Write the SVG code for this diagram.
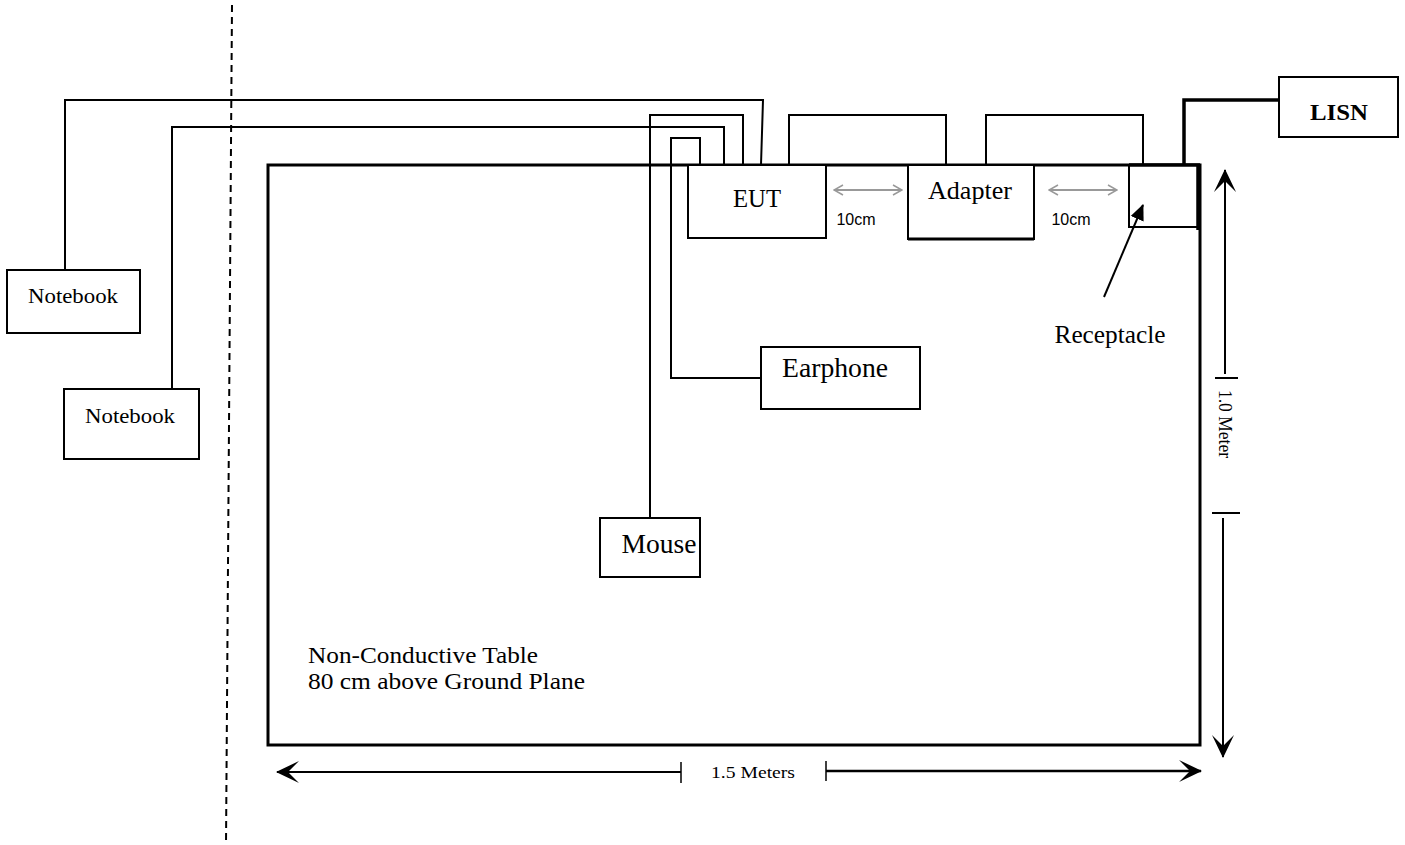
<svg xmlns="http://www.w3.org/2000/svg" width="1405" height="845" viewBox="0 0 1405 845">
<defs>
<style>
.box{fill:#fff;stroke:#000;stroke-width:2}
.w{fill:none;stroke:#000;stroke-width:2}
.t{font-family:"Liberation Serif",serif;fill:#000}
.s{font-family:"Liberation Sans",sans-serif;fill:#000}
.g{fill:none;stroke:#999;stroke-width:2}
</style>
<marker id="ga" viewBox="0 0 12 12" refX="11" refY="6" markerWidth="12" markerHeight="12" orient="auto-start-reverse" markerUnits="userSpaceOnUse">
<path d="M2,1 L11,6 L2,11" fill="none" stroke="#999" stroke-width="1.5"/>
</marker>
<marker id="ba" viewBox="0 0 16 16" refX="15" refY="8" markerWidth="16" markerHeight="16" orient="auto" markerUnits="userSpaceOnUse">
<path d="M0,1 L16,8 L0,15 Z" fill="#000"/>
</marker>
<marker id="da" viewBox="0 0 24 24" refX="23" refY="12" markerWidth="24" markerHeight="24" orient="auto-start-reverse" markerUnits="userSpaceOnUse">
<path d="M24,12 L1,1 L12,12 L1,23 Z" fill="#000"/>
</marker>
</defs>
<rect width="1405" height="845" fill="#fff"/>

<line x1="232" y1="5" x2="226" y2="845" stroke="#000" stroke-width="2" stroke-dasharray="7,5"/>

<g id="table">
<rect x="268" y="165" width="932" height="580" fill="none" stroke="#000" stroke-width="3"/>
<text class="t" x="308" y="663" font-size="24" textLength="230" lengthAdjust="spacingAndGlyphs">Non-Conductive Table</text>
<text class="t" x="308" y="689" font-size="24" textLength="277" lengthAdjust="spacingAndGlyphs">80 cm above Ground Plane</text>
</g>

<g id="connectors">
<polyline class="w" points="65,270 65,100 763,100 761,165"/>
<polyline class="w" points="172,389 172,127 724,127 724,165"/>
<polyline class="w" points="650,518 650,115 743,115 743,165"/>
<polyline class="w" points="761,378 671,378 671,138 700,138 700,165"/>
<polyline class="w" points="789,165 789,115 946,115 946,165"/>
<polyline class="w" points="986,165 986,115 1143,115 1143,165"/>
<polyline points="1279,100 1184,100 1184,165" fill="none" stroke="#000" stroke-width="3.5"/>
<line class="g" x1="834" y1="190" x2="902" y2="190" marker-start="url(#ga)" marker-end="url(#ga)"/>
<line class="g" x1="1049" y1="190" x2="1117" y2="190" marker-start="url(#ga)" marker-end="url(#ga)"/>
</g>

<g id="eut">
<rect class="box" x="688" y="165" width="138" height="73"/>
<text class="t" x="757" y="207" font-size="25" text-anchor="middle" textLength="48" lengthAdjust="spacingAndGlyphs">EUT</text>
</g>
<g id="adapter">
<rect class="box" x="908" y="165" width="126" height="74"/>
<line x1="908" y1="239" x2="1034" y2="239" stroke="#000" stroke-width="3"/>
<text class="t" x="970" y="199" font-size="25" text-anchor="middle" textLength="84" lengthAdjust="spacingAndGlyphs">Adapter</text>
</g>
<g id="receptacle">
<rect class="box" x="1129" y="165" width="70" height="62"/>
<line x1="1129" y1="165" x2="1200" y2="165" stroke="#000" stroke-width="3.5"/>
<line x1="1198" y1="165" x2="1198" y2="230" stroke="#000" stroke-width="3.5"/>
<line x1="1104" y1="297" x2="1143" y2="205" stroke="#000" stroke-width="2" marker-end="url(#ba)"/>
<text class="t" x="1110" y="343" font-size="25" text-anchor="middle" textLength="111" lengthAdjust="spacingAndGlyphs">Receptacle</text>
</g>
<g id="lisn">
<rect class="box" x="1279" y="77" width="119" height="60"/>
<text class="t" x="1339" y="120" font-size="24" font-weight="bold" text-anchor="middle" textLength="58" lengthAdjust="spacingAndGlyphs">LISN</text>
</g>
<g id="label10a"><text class="s" x="856" y="225" font-size="16" text-anchor="middle">10cm</text></g>
<g id="label10b"><text class="s" x="1071" y="225" font-size="16" text-anchor="middle">10cm</text></g>
<g id="notebook1">
<rect class="box" x="7" y="270" width="133" height="63"/>
<text class="t" x="73" y="303" font-size="22" text-anchor="middle" textLength="90" lengthAdjust="spacingAndGlyphs">Notebook</text>
</g>
<g id="notebook2">
<rect class="box" x="64" y="389" width="135" height="70"/>
<text class="t" x="130" y="423" font-size="22" text-anchor="middle" textLength="90" lengthAdjust="spacingAndGlyphs">Notebook</text>
</g>
<g id="earphone">
<rect class="box" x="761" y="347" width="159" height="62"/>
<text class="t" x="835" y="377" font-size="28" text-anchor="middle" textLength="106" lengthAdjust="spacingAndGlyphs">Earphone</text>
</g>
<g id="mouse">
<rect class="box" x="600" y="518" width="100" height="59"/>
<text class="t" x="659" y="553" font-size="28" text-anchor="middle" textLength="75" lengthAdjust="spacingAndGlyphs">Mouse</text>
</g>

<g id="dim-v">
<line x1="1225" y1="170" x2="1225" y2="374" stroke="#000" stroke-width="2" marker-start="url(#da)"/>
<line x1="1215" y1="378" x2="1238" y2="378" stroke="#000" stroke-width="2"/>
<text class="t" transform="translate(1219,424) rotate(90)" font-size="18" text-anchor="middle" textLength="68" lengthAdjust="spacingAndGlyphs">1.0 Meter</text>
<line x1="1212" y1="513" x2="1240" y2="513" stroke="#000" stroke-width="2"/>
<line x1="1223" y1="518" x2="1223" y2="757" stroke="#000" stroke-width="2" marker-end="url(#da)"/>
</g>
<g id="dim-h">
<line x1="277" y1="772" x2="681" y2="772" stroke="#000" stroke-width="2" marker-start="url(#da)"/>
<line x1="681" y1="762" x2="681" y2="783" stroke="#000" stroke-width="1.5"/>
<text class="t" x="753" y="778" font-size="17" text-anchor="middle" textLength="84" lengthAdjust="spacingAndGlyphs">1.5 Meters</text>
<line x1="826" y1="761" x2="826" y2="781" stroke="#000" stroke-width="1.5"/>
<line x1="826" y1="771" x2="1201" y2="771" stroke="#000" stroke-width="2.5" marker-end="url(#da)"/>
</g>
</svg>
